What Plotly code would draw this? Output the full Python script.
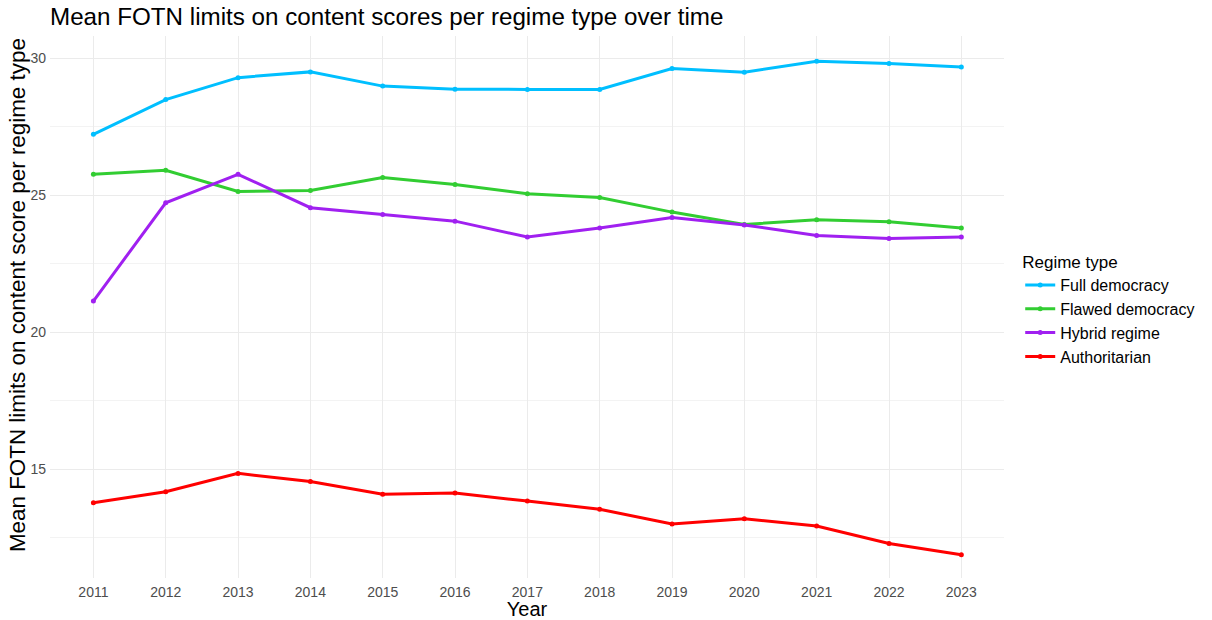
import plotly.graph_objects as go

years = list(range(2011, 2024))
series_names = ["Full democracy", "Flawed democracy", "Hybrid regime", "Authoritarian"]
full_democracy = [27.23, 28.50, 29.30, 29.51, 28.99, 28.88, 28.87, 28.87, 29.63, 29.50, 29.90, 29.82, 29.69]
flawed_democracy = [25.77, 25.92, 25.14, 25.18, 25.65, 25.40, 25.06, 24.92, 24.39, 23.94, 24.11, 24.04, 23.81]
hybrid_regime = [21.14, 24.73, 25.77, 24.55, 24.30, 24.06, 23.48, 23.81, 24.19, 23.92, 23.54, 23.43, 23.48]
authoritarian = [13.78, 14.18, 14.85, 14.55, 14.09, 14.13, 13.84, 13.54, 13.00, 13.19, 12.93, 12.29, 11.88]
colors = ["#00BFFF", "#32CD32", "#A020F0", "#FF0000"]
y_ticks = [15, 20, 25, 30]
y_minor = [12.5, 17.5, 22.5, 27.5]

fig = go.Figure()
for name, vals, col in zip(series_names, [full_democracy, flawed_democracy, hybrid_regime, authoritarian], colors):
    fig.add_trace(go.Scatter(
        x=years, y=vals, name=name, mode="lines+markers",
        line=dict(color=col, width=3),
        marker=dict(color=col, size=5),
    ))

font_family = "Liberation Sans, Arial, sans-serif"
W, H = 1212, 620
fig.update_layout(
    width=W, height=H,
    paper_bgcolor="white", plot_bgcolor="white",
    margin=dict(l=50, r=203, t=36, b=42),
    font=dict(family=font_family, color="#000000"),
    title=dict(text="Mean FOTN limits on content scores per regime type over time",
               x=0, xref="paper", xanchor="left",
               y=1 - 17 / H, yref="container", yanchor="middle",
               pad=dict(l=0, r=0, t=0, b=0),
               font=dict(size=24.2, color="#000000")),
    xaxis=dict(
        range=[2010.4, 2023.59], automargin=False,
        tickmode="array", tickvals=years, ticktext=[str(y) for y in years],
        showgrid=True, gridcolor="#EBEBEB", gridwidth=1,
        zeroline=False, showline=False, ticks="", ticklabelstandoff=4,
        tickfont=dict(size=14, color="#4D4D4D"),
        title=dict(text="Year", font=dict(size=20, color="#000000"), standoff=8),
    ),
    yaxis=dict(
        range=[11.03, 30.82], automargin=False,
        tickmode="array", tickvals=y_ticks,
        showgrid=True, gridcolor="#EBEBEB", gridwidth=1,
        minor=dict(tickmode="array", tickvals=y_minor, showgrid=True,
                   gridcolor="#F3F3F3", gridwidth=1),
        zeroline=False, showline=False, ticks="", ticklabelstandoff=3,
        tickfont=dict(size=14, color="#4D4D4D"),
    ),
    annotations=[dict(
        text="Mean FOTN limits on content score per regime type",
        textangle=-90, xref="paper", yref="paper", x=0, y=0.522,
        xanchor="center", yanchor="middle", xshift=-33, showarrow=False,
        font=dict(size=22.4, color="#000000"),
    )],
    legend=dict(
        title=dict(text="Regime type", font=dict(size=17, color="#000000")),
        font=dict(size=16, color="#000000"),
        x=1.017, xanchor="left", y=0.4945, yanchor="middle",
        bgcolor="rgba(0,0,0,0)", tracegroupgap=0, itemwidth=30,
    ),
)

fig.write_html("out.html", config={"displayModeBar": False},
               post_script="document.body.style.margin='0';")
